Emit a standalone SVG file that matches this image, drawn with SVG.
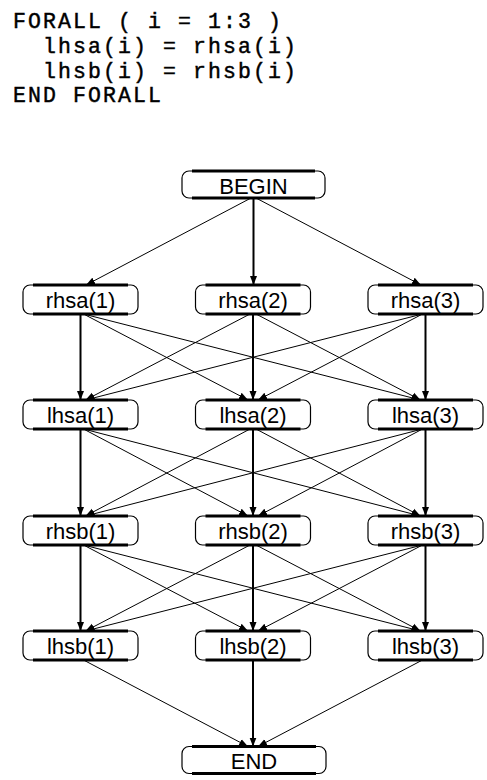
<svg xmlns="http://www.w3.org/2000/svg" width="487" height="780" viewBox="0 0 487 780">
<style>
.code{font-family:"Liberation Mono","DejaVu Sans Mono",monospace;font-size:21.5px;letter-spacing:2.1px;fill:#000;stroke:#000;stroke-width:0.45}
.box{fill:#fff;stroke:#000;stroke-width:1.2}
.bar{stroke:#000;stroke-width:3;fill:none}
.lbl{font-family:"Liberation Sans",Arial,sans-serif;font-size:22px;fill:#000;text-anchor:middle}
.v{stroke:#000;stroke-width:2;fill:none;marker-end:url(#ah)}
.d{stroke:#000;stroke-width:1;fill:none;marker-end:url(#ah)}
</style>
<defs>
<marker id="ah" markerUnits="userSpaceOnUse" markerWidth="10" markerHeight="8" refX="9" refY="4" orient="auto">
<path d="M0,0.5 L9,4 L0,7.5 z" fill="#000"/>
</marker>
</defs>
<rect width="487" height="780" fill="#fff"/>
<g id="code">
<text class="code" x="13" y="28.3">FORALL ( i = 1:3 )</text>
<text class="code" x="43" y="53">lhsa(i) = rhsa(i)</text>
<text class="code" x="43" y="77.7">lhsb(i) = rhsb(i)</text>
<text class="code" x="13" y="102.3">END FORALL</text>
</g>
<g id="connectors">
<line class="v" x1="253.5" y1="198" x2="253.5" y2="285"/>
<line class="d" x1="251" y1="198" x2="86" y2="285"/>
<line class="d" x1="256" y1="198" x2="421" y2="285"/>

<line class="v" x1="80.5" y1="314" x2="80.5" y2="400"/>
<line class="v" x1="253" y1="314" x2="253" y2="400"/>
<line class="v" x1="425.5" y1="314" x2="425.5" y2="400"/>
<line class="d" x1="83.5" y1="314" x2="248" y2="400"/>
<line class="d" x1="83.5" y1="314" x2="420.5" y2="400"/>
<line class="d" x1="250" y1="314" x2="85.5" y2="400"/>
<line class="d" x1="256" y1="314" x2="420.5" y2="400"/>
<line class="d" x1="422.5" y1="314" x2="85.5" y2="400"/>
<line class="d" x1="422.5" y1="314" x2="258" y2="400"/>

<line class="v" x1="80.5" y1="429" x2="80.5" y2="516"/>
<line class="v" x1="253" y1="429" x2="253" y2="516"/>
<line class="v" x1="425.5" y1="429" x2="425.5" y2="516"/>
<line class="d" x1="83.5" y1="429" x2="248" y2="516"/>
<line class="d" x1="83.5" y1="429" x2="420.5" y2="516"/>
<line class="d" x1="250" y1="429" x2="85.5" y2="516"/>
<line class="d" x1="256" y1="429" x2="420.5" y2="516"/>
<line class="d" x1="422.5" y1="429" x2="85.5" y2="516"/>
<line class="d" x1="422.5" y1="429" x2="258" y2="516"/>

<line class="v" x1="80.5" y1="545" x2="80.5" y2="631"/>
<line class="v" x1="253" y1="545" x2="253" y2="631"/>
<line class="v" x1="425.5" y1="545" x2="425.5" y2="631"/>
<line class="d" x1="83.5" y1="545" x2="248" y2="631"/>
<line class="d" x1="83.5" y1="545" x2="420.5" y2="631"/>
<line class="d" x1="250" y1="545" x2="85.5" y2="631"/>
<line class="d" x1="256" y1="545" x2="420.5" y2="631"/>
<line class="d" x1="422.5" y1="545" x2="85.5" y2="631"/>
<line class="d" x1="422.5" y1="545" x2="258" y2="631"/>

<line class="v" x1="253" y1="660" x2="253" y2="746.5"/>
<line class="d" x1="83.5" y1="660" x2="248" y2="746.5"/>
<line class="d" x1="422.5" y1="660" x2="258" y2="746.5"/>
</g>

<g id="BEGIN">
<rect class="box" x="182" y="171" width="143" height="27" rx="7"/>
<path class="bar" d="M192,171H315M192,198H315"/>
<text class="lbl" x="253.5" y="193.5">BEGIN</text>
</g>

<g id="rhsa1">
<rect class="box" x="23" y="285" width="115" height="29" rx="7"/>
<path class="bar" d="M33,285H128M33,314H128"/>
<text class="lbl" x="80.5" y="307.5">rhsa(1)</text>
</g>
<g id="rhsa2">
<rect class="box" x="195.5" y="285" width="115" height="29" rx="7"/>
<path class="bar" d="M205.5,285H300.5M205.5,314H300.5"/>
<text class="lbl" x="253" y="307.5">rhsa(2)</text>
</g>
<g id="rhsa3">
<rect class="box" x="368" y="285" width="115" height="29" rx="7"/>
<path class="bar" d="M378,285H473M378,314H473"/>
<text class="lbl" x="425.5" y="307.5">rhsa(3)</text>
</g>

<g id="lhsa1">
<rect class="box" x="23" y="400" width="115" height="29" rx="7"/>
<path class="bar" d="M33,400H128M33,429H128"/>
<text class="lbl" x="80.5" y="422.5">lhsa(1)</text>
</g>
<g id="lhsa2">
<rect class="box" x="195.5" y="400" width="115" height="29" rx="7"/>
<path class="bar" d="M205.5,400H300.5M205.5,429H300.5"/>
<text class="lbl" x="253" y="422.5">lhsa(2)</text>
</g>
<g id="lhsa3">
<rect class="box" x="368" y="400" width="115" height="29" rx="7"/>
<path class="bar" d="M378,400H473M378,429H473"/>
<text class="lbl" x="425.5" y="422.5">lhsa(3)</text>
</g>

<g id="rhsb1">
<rect class="box" x="23" y="516" width="115" height="29" rx="7"/>
<path class="bar" d="M33,516H128M33,545H128"/>
<text class="lbl" x="80.5" y="538.5">rhsb(1)</text>
</g>
<g id="rhsb2">
<rect class="box" x="195.5" y="516" width="115" height="29" rx="7"/>
<path class="bar" d="M205.5,516H300.5M205.5,545H300.5"/>
<text class="lbl" x="253" y="538.5">rhsb(2)</text>
</g>
<g id="rhsb3">
<rect class="box" x="368" y="516" width="115" height="29" rx="7"/>
<path class="bar" d="M378,516H473M378,545H473"/>
<text class="lbl" x="425.5" y="538.5">rhsb(3)</text>
</g>

<g id="lhsb1">
<rect class="box" x="23" y="631" width="115" height="29" rx="7"/>
<path class="bar" d="M33,631H128M33,660H128"/>
<text class="lbl" x="80.5" y="653.5">lhsb(1)</text>
</g>
<g id="lhsb2">
<rect class="box" x="195.5" y="631" width="115" height="29" rx="7"/>
<path class="bar" d="M205.5,631H300.5M205.5,660H300.5"/>
<text class="lbl" x="253" y="653.5">lhsb(2)</text>
</g>
<g id="lhsb3">
<rect class="box" x="368" y="631" width="115" height="29" rx="7"/>
<path class="bar" d="M378,631H473M378,660H473"/>
<text class="lbl" x="425.5" y="653.5">lhsb(3)</text>
</g>

<g id="END">
<rect class="box" x="182" y="746.5" width="144" height="27" rx="7"/>
<path class="bar" d="M192,746.5H316M192,773.5H316"/>
<text class="lbl" x="254" y="768.5">END</text>
</g>
</svg>
